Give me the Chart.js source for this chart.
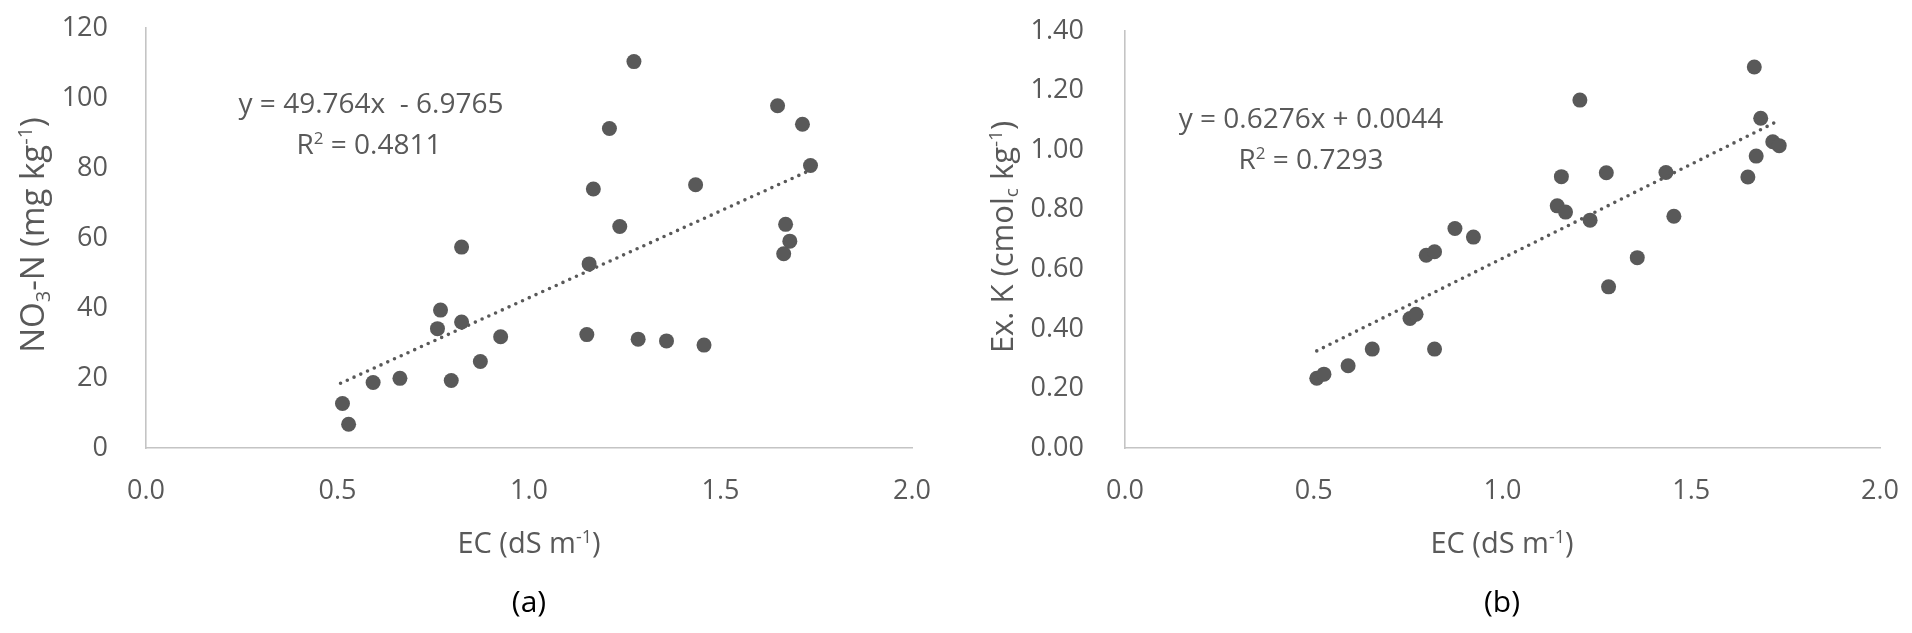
<!DOCTYPE html>
<html>
<head>
<meta charset="utf-8">
<script src="https://cdn.jsdelivr.net/npm/chart.js@4.4.1/dist/chart.umd.min.js"></script>
<style>
  body { margin: 0; background: #fff; }
  #wrap { position: relative; width: 1912px; height: 633px; }
  canvas { position: absolute; top: 0; }
</style>
</head>
<body>
<div id="wrap">
  <canvas id="chart-a" width="956" height="633" style="left:0"></canvas>
  <canvas id="chart-b" width="956" height="633" style="left:956px"></canvas>
</div>
<script>
/* data */
let ecA = [0.513, 0.529, 0.593, 0.663, 0.761, 0.769, 0.797, 0.824, 0.824, 0.873, 0.926, 1.151, 1.157, 1.168,
           1.210, 1.237, 1.274, 1.285, 1.359, 1.435, 1.457, 1.649, 1.665, 1.670, 1.681, 1.714, 1.735]
let no3 = [12.7, 6.8, 18.7, 19.9, 34.1, 39.4, 19.3, 36.0, 57.4, 24.7, 31.8, 32.4, 52.6, 74.0,
           91.3, 63.3, 110.4, 31.1, 30.6, 75.2, 29.4, 97.8, 55.5, 63.9, 59.1, 92.5, 80.7]

let ecB = [0.508, 0.527, 0.591, 0.655, 0.755, 0.771, 0.798, 0.820, 0.820, 0.874, 0.923, 1.145, 1.156, 1.167,
           1.205, 1.232, 1.275, 1.281, 1.357, 1.433, 1.454, 1.650, 1.667, 1.672, 1.684, 1.716, 1.733]
let exK = [0.234, 0.248, 0.276, 0.332, 0.435, 0.449, 0.647, 0.332, 0.659, 0.737, 0.708, 0.813, 0.911, 0.792,
           1.168, 0.765, 0.924, 0.541, 0.639, 0.925, 0.778, 0.910, 1.279, 0.980, 1.107, 1.028, 1.015]

// linear trendline end points (x, y)
let trendA = [[0.508, 18.5], [1.735, 79.4]]
let trendB = [[0.508, 0.326], [1.733, 1.100]]

// tick labels
let xTickLabels = ['0.0', '0.5', '1.0', '1.5', '2.0']
let yTickLabelsA = ['0', '20', '40', '60', '80', '100', '120']
let yTickLabelsB = ['0.00', '0.20', '0.40', '0.60', '0.80', '1.00', '1.20', '1.40']

let FONT = '"Open Sans"'
let GREY = '#595959'

// draw a line of text made of pieces, some raised or lowered
function drawRich(ctx, parts, size, color, x, y, rotate) {
    let small = Math.round(size * 0.62)
    ctx.save()
    ctx.fillStyle = color
    ctx.textBaseline = 'alphabetic'
    ctx.textAlign = 'left'
    let widths = parts.map(function(p) {
        ctx.font = (p[1] ? small : size) + 'px ' + FONT
        return ctx.measureText(p[0]).width
    })
    let total = widths.reduce(function(a, b) { return a + b }, 0)
    ctx.translate(x, y)
    if (rotate) ctx.rotate(-Math.PI / 2)
    let cx = -total / 2
    parts.forEach(function(p, i) {
        ctx.font = (p[1] ? small : size) + 'px ' + FONT
        let dy = 0
        if (p[1] === 'sup') dy = -size * 0.36
        if (p[1] === 'sub') dy = size * 0.17
        ctx.fillText(p[0], cx, dy)
        cx += widths[i]
    })
    ctx.restore()
}

function textPlugin(items) {
    return {
        id: 'richText',
        afterDraw: function(chart) {
            items.forEach(function(it) {
                drawRich(chart.ctx, it.parts, it.size, it.color || GREY, it.x, it.y, it.rotate)
            })
        }
    }
}

function makeChart(canvasId, xs, ys, trend, yMax, yStep, yLabels, area, texts) {
    let ctx = document.getElementById(canvasId).getContext('2d')
    return new Chart(ctx, {
        type: 'scatter',
        data: {
            datasets: [
                {
                    data: trend.map(function(p) { return { x: p[0], y: p[1] } }),
                    showLine: true,
                    borderColor: GREY,
                    borderWidth: 3.6,
                    borderDash: [0, 7.4],
                    borderCapStyle: 'round',
                    pointRadius: 0,
                    order: 0
                },
                {
                    data: xs.map(function(x, i) { return { x: x, y: ys[i] } }),
                    backgroundColor: GREY,
                    borderColor: GREY,
                    pointRadius: 7.5,
                    pointBorderWidth: 0,
                    order: 1
                }
            ]
        },
        options: {
            responsive: false,
            animation: false,
            devicePixelRatio: 1,
            layout: { padding: { left: 0, top: area.top, right: 956 - area.right, bottom: 0 } },
            plugins: { legend: { display: false }, tooltip: { enabled: false } },
            scales: {
                x: {
                    type: 'linear', min: 0, max: 2,
                    grid: { display: false, drawTicks: false },
                    border: { display: true, color: '#c4c4c4', width: 1.6 },
                    ticks: {
                        stepSize: 0.5, padding: 27, color: GREY,
                        font: { family: FONT, size: 27 },
                        callback: function(v, i) { return xTickLabels[i] }
                    },
                    afterFit: function(scale) {
                        scale.height = 633 - area.bottom
                        scale.paddingLeft = 0
                        scale.paddingRight = 0
                    }
                },
                y: {
                    type: 'linear', min: 0, max: yMax,
                    grid: { display: false, drawTicks: false },
                    border: { display: true, color: '#c4c4c4', width: 1.6 },
                    ticks: {
                        stepSize: yStep, padding: area.left - area.labelRight, color: GREY,
                        font: { family: FONT, size: 27 },
                        callback: function(v, i) { return yLabels[i] }
                    },
                    afterFit: function(scale) {
                        scale.width = area.left
                        scale.paddingTop = 0
                        scale.paddingBottom = 0
                    }
                }
            }
        },
        plugins: [textPlugin(texts)]
    })
}

let chartA = makeChart('chart-a', ecA, no3, trendA, 120, 20, yTickLabelsA,
    { left: 146, right: 912, top: 28, bottom: 448, labelRight: 108 },
    [
        { parts: [['y = 49.764x  - 6.9765']], size: 28, x: 371, y: 113 },
        { parts: [['R'], ['2', 'sup'], [' = 0.4811']], size: 28, x: 369, y: 154 },
        { parts: [['NO'], ['3', 'sub'], ['-N (mg kg'], ['-1', 'sup'], [')']], size: 33, x: 44, y: 235, rotate: true },
        { parts: [['EC (dS m'], ['-1', 'sup'], [')']], size: 29, x: 529, y: 553 },
        { parts: [['(a)']], size: 30, color: '#000', x: 529, y: 612 }
    ])

let chartB = makeChart('chart-b', ecB, exK, trendB, 1.4, 0.2, yTickLabelsB,
    { left: 169, right: 924, top: 31, bottom: 448, labelRight: 128 },
    [
        { parts: [['y = 0.6276x + 0.0044']], size: 28, x: 355, y: 128 },
        { parts: [['R'], ['2', 'sup'], [' = 0.7293']], size: 28, x: 355, y: 169 },
        { parts: [['Ex. K (cmol'], ['c', 'sub'], [' kg'], ['-1', 'sup'], [')']], size: 31, x: 57, y: 237, rotate: true },
        { parts: [['EC (dS m'], ['-1', 'sup'], [')']], size: 29, x: 546, y: 553 },
        { parts: [['(b)']], size: 30, color: '#000', x: 546, y: 612 }
    ])
</script>
</body>
</html>
